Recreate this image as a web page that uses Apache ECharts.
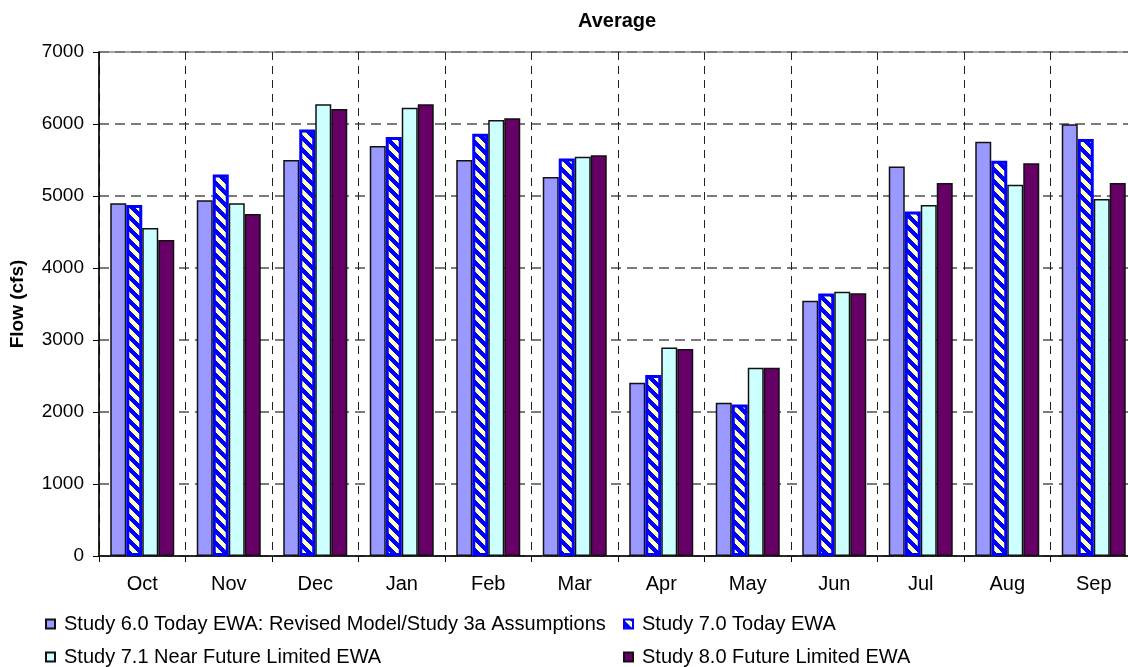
<!DOCTYPE html>
<html>
<head>
<meta charset="utf-8">
<script src="https://cdn.jsdelivr.net/npm/echarts@6/dist/echarts.min.js"></script>
<style>
html,body{margin:0;padding:0;background:#fff;}
#chart{width:1128px;height:667px;}
</style>
</head>
<body>
<div id="chart"></div>
<script>
const categories = ['Oct','Nov','Dec','Jan','Feb','Mar','Apr','May','Jun','Jul','Aug','Sep'];
const seriesNames = [
  'Study 6.0 Today EWA: Revised Model/Study 3a Assumptions',
  'Study 7.0 Today EWA',
  'Study 7.1 Near Future Limited EWA',
  'Study 8.0 Future Limited EWA'
];
const study60 = [4900, 4940, 5500, 5695, 5500, 5265, 2405, 2130, 3545, 5410, 5755, 5995];
const study70 = [4875, 5300, 5925, 5820, 5865, 5520, 2515, 2105, 3645, 4785, 5490, 5790];
const study71 = [4555, 4900, 6275, 6225, 6055, 5545, 2895, 2615, 3670, 4875, 5155, 4960];
const study80 = [4390, 4750, 6210, 6275, 6080, 5565, 2875, 2615, 3650, 5180, 5455, 5180];
const yTicks = {min: 0, max: 7000, interval: 1000};

// hatch pattern: pale yellow with blue "\" diagonal stripes
function makeHatch() {
  const n = 12;
  const c = document.createElement('canvas');
  c.width = n; c.height = n;
  const ctx = c.getContext('2d');
  const img = ctx.createImageData(n, n);
  for (let y = 0; y < n; y++) {
    for (let x = 0; x < n; x++) {
      const d = ((x - y) % n + n) % n;
      const i = (y * n + x) * 4;
      if (d < 6) { img.data[i] = 255; img.data[i+1] = 255; img.data[i+2] = 192; }
      else { img.data[i] = 0; img.data[i+1] = 0; img.data[i+2] = 255; }
      img.data[i+3] = 255;
    }
  }
  ctx.putImageData(img, 0, 0);
  return c;
}
const hatch = makeHatch();

const FONT = "'Liberation Sans', Arial, sans-serif";
const chart = echarts.init(document.getElementById('chart'), null, {renderer: 'canvas'});

function bar(name, data, itemStyle) {
  return {
    name: name, type: 'bar', data: data,
    barWidth: 16, barGap: '0%',
    itemStyle: itemStyle,
    emphasis: {disabled: true},
    animation: false
  };
}

const option = {
  animation: false,
  backgroundColor: '#ffffff',
  textStyle: {fontFamily: FONT, color: '#000'},
  title: {
    text: 'Average', left: 578, top: 11, padding: 0,
    textStyle: {fontFamily: FONT, fontSize: 20, fontWeight: 'bold', color: '#000'}
  },
  grid: {
    left: 99, top: 52, width: 1038, height: 504,
    show: true, borderColor: '#888', borderWidth: 1.5, backgroundColor: 'transparent',
    containLabel: false, outerBoundsMode: 'none'
  },
  legend: [
    {
      orient: 'vertical', left: 45, top: 614, padding: 0, itemGap: 13,
      itemWidth: 9, itemHeight: 9, icon: 'rect',
      data: [seriesNames[0], seriesNames[2]],
      textStyle: {fontFamily: FONT, fontSize: 20, lineHeight: 20, color: '#000', padding: [0,0,0,4]}
    },
    {
      orient: 'vertical', left: 623, top: 614, padding: 0, itemGap: 13,
      itemWidth: 9, itemHeight: 9, icon: 'rect',
      data: [seriesNames[1], seriesNames[3]],
      textStyle: {fontFamily: FONT, fontSize: 20, lineHeight: 20, color: '#000', padding: [0,0,0,4]}
    }
  ],
  xAxis: {
    type: 'category', data: categories, boundaryGap: true,
    axisLine: {show: true, lineStyle: {color: '#000', width: 1.5}},
    axisTick: {show: true, length: 6, lineStyle: {color: '#000', width: 1}},
    axisLabel: {fontFamily: FONT, fontSize: 20, color: '#000', margin: 18},
    splitLine: {show: true, lineStyle: {color: '#222', width: 1, type: [8, 6]}}
  },
  yAxis: {
    type: 'value', min: yTicks.min, max: yTicks.max, interval: yTicks.interval,
    name: 'Flow (cfs)', nameLocation: 'middle', nameRotate: 90, nameGap: 72,
    nameTextStyle: {fontFamily: FONT, fontSize: 19, fontWeight: 'bold', color: '#000'},
    axisLine: {show: true, lineStyle: {color: '#000', width: 1.5}},
    axisTick: {show: true, length: 6, lineStyle: {color: '#000', width: 1}},
    axisLabel: {fontFamily: FONT, fontSize: 19, color: '#000', margin: 15,
      formatter: function (v) { return String(v); }},
    splitLine: {show: true, lineStyle: {color: '#7a7a7a', width: 2, type: [10, 6]}}
  },
  series: [
    bar(seriesNames[0], study60, {color: '#9999FF', borderColor: '#111', borderWidth: 1.5}),
    bar(seriesNames[1], study70, {color: {image: hatch, repeat: 'repeat'}, borderColor: '#0000FF', borderWidth: 3}),
    bar(seriesNames[2], study71, {color: '#CCFFFF', borderColor: '#111', borderWidth: 1.5}),
    bar(seriesNames[3], study80, {color: '#660066', borderColor: '#111', borderWidth: 1.5})
  ]
};
chart.setOption(option);
</script>
</body>
</html>
